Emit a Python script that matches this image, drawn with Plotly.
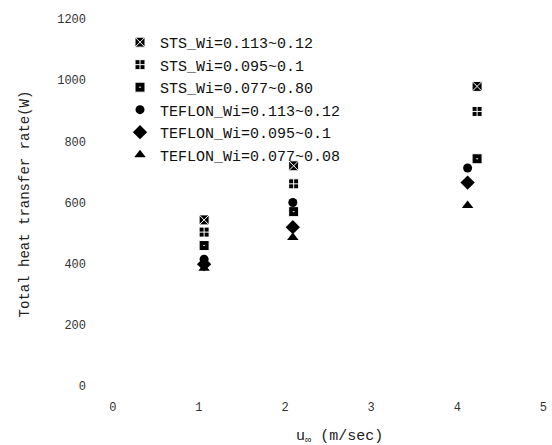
import plotly.graph_objects as go

# velocity (m/s)
x_sts = [1.06, 2.10, 4.23]
x_tef = [1.06, 2.09, 4.12]

# total heat transfer rate (W)
sts_113 = [543, 720, 980]
sts_095 = [503, 661, 898]
sts_077 = [459, 570, 743]
tef_113 = [414, 600, 713]
tef_095 = [398, 519, 665]
tef_077 = [385, 485, 590]

names = ["STS_Wi=0.113~0.12", "STS_Wi=0.095~0.1", "STS_Wi=0.077~0.80",
         "TEFLON_Wi=0.113~0.12", "TEFLON_Wi=0.095~0.1", "TEFLON_Wi=0.077~0.08"]

x_ticks = [0, 1, 2, 3, 4, 5]
y_ticks = [0, 200, 400, 600, 800, 1000, 1200]

FONT = "Liberation Mono, DejaVu Sans Mono, monospace"

series = [
    (x_sts, sts_113, names[0], dict(symbol="square-x", size=10, color="black", line=dict(color="white", width=1))),
    (x_sts, sts_095, names[1], dict(symbol="square-cross", size=10, color="black", line=dict(color="white", width=1))),
    (x_sts, sts_077, names[2], dict(symbol="square-dot", size=10, color="black", line=dict(color="white", width=1))),
    (x_tef, tef_113, names[3], dict(symbol="circle", size=9, color="black")),
    (x_tef, tef_095, names[4], dict(symbol="diamond", size=11, color="black")),
    (x_tef, tef_077, names[5], dict(symbol="triangle-up", size=10, color="black")),
]

fig = go.Figure()
for xs, ys, nm, mk in series:
    fig.add_trace(go.Scatter(x=xs, y=ys, mode="markers", name=nm, marker=mk))

fig.update_layout(
    width=552, height=445,
    margin=dict(l=87, r=0, t=10, b=47),
    paper_bgcolor="white", plot_bgcolor="white",
    font=dict(family=FONT, color="#222", size=11),
    showlegend=True,
    legend=dict(x=0.071, y=0.959, xanchor="left", yanchor="top",
                bgcolor="rgba(0,0,0,0)", font=dict(family=FONT, size=15, color="#111"),
                itemwidth=30),
    xaxis=dict(range=[-0.3, 5.1], tickvals=x_ticks, ticktext=[str(v) for v in x_ticks],
               showgrid=False, zeroline=False, showline=False, ticks="",
               tickfont=dict(family=FONT, size=12, color="#333")),
    yaxis=dict(range=[-40, 1230], tickvals=y_ticks, ticktext=[str(v) for v in y_ticks],
               showgrid=False, zeroline=False, showline=False, ticks="",
               tickfont=dict(family=FONT, size=12, color="#333"),
               title=dict(text="Total heat transfer rate(W)", font=dict(family=FONT, size=14, color="#222"), standoff=24)),
    annotations=[dict(text="u<sub>∞</sub> (m/sec)", xref="paper", yref="paper",
                      x=0.544, y=-0.1005, xanchor="center", yanchor="middle", showarrow=False,
                      font=dict(family=FONT, size=15, color="#222"))],
)

fig.write_html("out.html")
